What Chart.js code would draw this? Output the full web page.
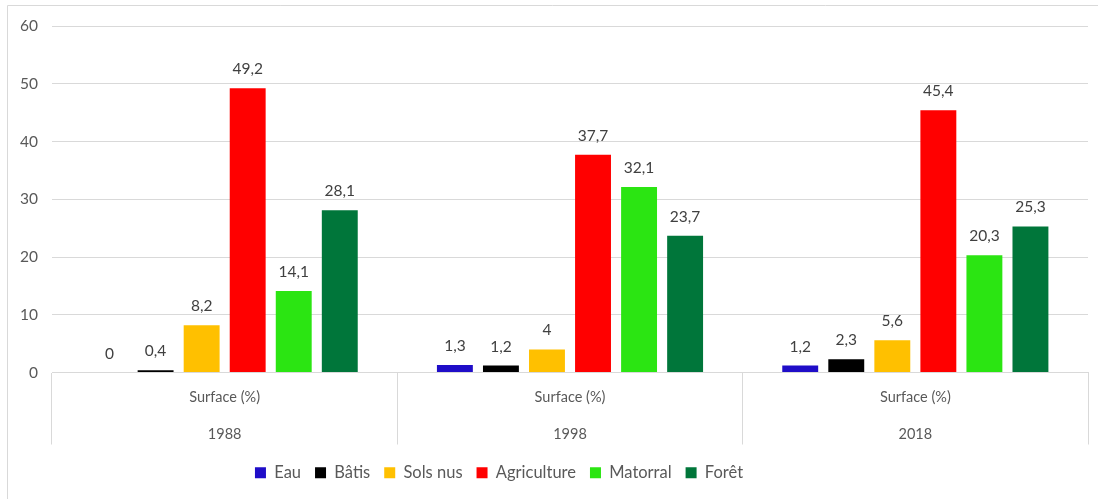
<!DOCTYPE html>
<html>
<head>
<meta charset="utf-8">
<script src="https://cdn.jsdelivr.net/npm/chart.js@4.4.0/dist/chart.umd.min.js"></script>
<style>
  html, body { margin: 0; padding: 0; background: #fff; }
  #wrap { width: 1098px; height: 499px; position: relative; }
</style>
</head>
<body>
<div id="wrap"><canvas id="chart" width="1098" height="499"></canvas></div>
<script>
// category labels (two-level axis)
const years = ['1988', '1998', '2018'];
const subLabel = 'Surface (%)';

// series values, one per land-use class
const eau = [0, 1.3, 1.2];
const batis = [0.4, 1.2, 2.3];
const solsNus = [8.2, 4, 5.6];
const agriculture = [49.2, 37.7, 45.4];
const matorral = [14.1, 32.1, 20.3];
const foret = [28.1, 23.7, 25.3];

const seriesNames = ['Eau', 'Bâtis', 'Sols nus', 'Agriculture', 'Matorral', 'Forêt'];
const seriesColors = ['#1F0DC8', '#000000', '#FFC000', '#FF0000', '#2BE512', '#00763A'];
const seriesData = [eau, batis, solsNus, agriculture, matorral, foret];

const fontFamily = 'Lato, "Noto Sans", sans-serif';
const gridColor = '#d9d9d9';

function makeDataset(i) {
    return {
        label: seriesNames[i],
        data: seriesData[i],
        backgroundColor: seriesColors[i],
        borderWidth: 0,
        categoryPercentage: 0.8,
        barPercentage: 0.78
    };
}

// value labels above each bar, with a decimal comma
const valueLabels = {
    id: 'valueLabels',
    afterDatasetsDraw(chart) {
        let ctx = chart.ctx;
        ctx.save();
        ctx.font = '15.5px ' + fontFamily;
        ctx.fillStyle = '#404040';
        ctx.textAlign = 'center';
        ctx.textBaseline = 'middle';
        chart.data.datasets.forEach(function (ds, i) {
            let meta = chart.getDatasetMeta(i);
            meta.data.forEach(function (bar, j) {
                let txt = String(ds.data[j]).replace('.', ',');
                ctx.fillText(txt, bar.x, bar.y - 19);
            });
        });
        ctx.restore();
    }
};

// light outer frame like the original chart object
const frame = {
    id: 'frame',
    beforeDraw(chart) {
        let ctx = chart.ctx;
        ctx.save();
        ctx.strokeStyle = gridColor;
        ctx.lineWidth = 1;
        ctx.beginPath();
        ctx.moveTo(7.5, chart.height);
        ctx.lineTo(7.5, 5.5);
        ctx.lineTo(chart.width, 5.5);
        ctx.stroke();
        ctx.restore();
    }
};

// the original legend sits a bit left of centre and lower
const legendShift = {
    id: 'legendShift',
    afterLayout(chart) {
        let lg = chart.legend;
        lg.left -= 45;
        lg.right -= 45;
        lg.top += 6;
        lg.bottom += 6;
    }
};

new Chart(document.getElementById('chart').getContext('2d'), {
    type: 'bar',
    data: {
        labels: years.map(y => [subLabel, y]),
        datasets: seriesNames.map((n, i) => makeDataset(i))
    },
    options: {
        responsive: false,
        animation: false,
        layout: {
            padding: { left: 0, right: 10, top: 26, bottom: 14 }
        },
        plugins: {
            legend: {
                position: 'bottom',
                labels: {
                    font: { family: fontFamily, size: 16.5 },
                    color: '#595959',
                    boxWidth: 11,
                    boxHeight: 11,
                    padding: 14
                }
            },
            tooltip: { enabled: false }
        },
        scales: {
            x: {
                grid: {
                    display: true,
                    offset: true,
                    drawOnChartArea: false,
                    drawTicks: true,
                    tickLength: 72,
                    color: gridColor
                },
                border: { display: true, color: gridColor },
                ticks: {
                    font: { family: fontFamily, size: 14.5, lineHeight: 2.55 },
                    color: '#595959',
                    padding: -66,
                    maxRotation: 0
                },
                afterFit: function (scale) {
                    scale.height = 72;
                }
            },
            y: {
                min: 0,
                max: 60,
                grid: { color: gridColor, drawTicks: false },
                border: { display: false },
                ticks: {
                    stepSize: 10,
                    font: { family: fontFamily, size: 15.5 },
                    color: '#595959',
                    padding: 14
                },
                afterFit: function (scale) {
                    scale.width = 52;
                }
            }
        }
    },
    plugins: [valueLabels, frame, legendShift]
});
</script>
</body>
</html>
